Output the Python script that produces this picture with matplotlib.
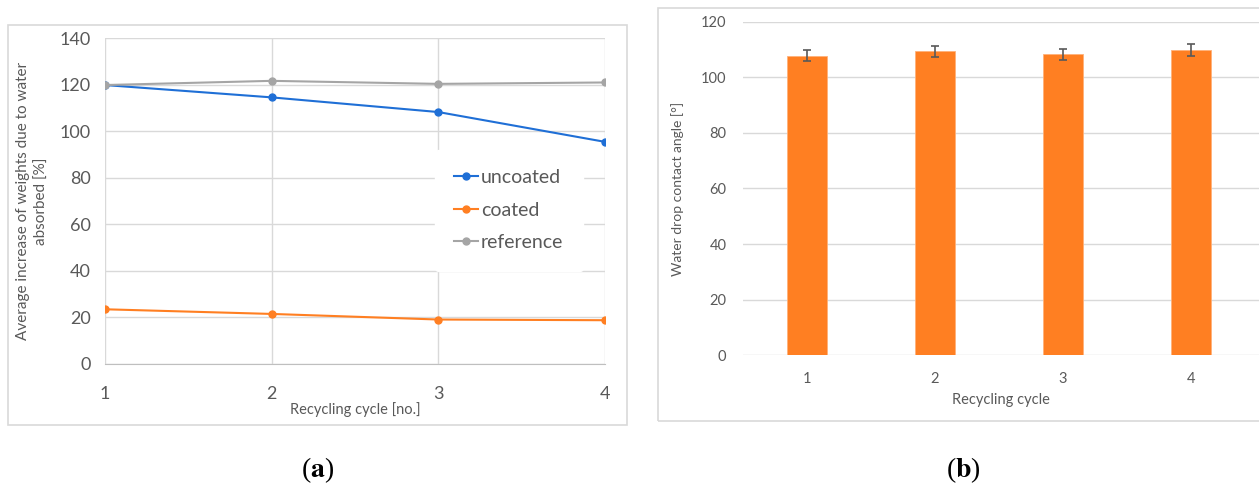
import matplotlib.pyplot as plt
from matplotlib.patches import Rectangle

# valores
ciclos = [1, 2, 3, 4]
uncoated = [119.8, 114.5, 108.2, 95.4]
coated = [23.5, 21.5, 19.1, 18.8]
reference = [119.8, 121.6, 120.3, 120.9]

angulo = [107.9, 109.5, 108.3, 109.9]
angulo_erro = [2.0, 2.0, 2.0, 2.0]

cor_texto = "#595959"
cor_grade = "#d9d9d9"

plt.rcParams["font.family"] = ["Lato", "DejaVu Sans"]
plt.rcParams["mathtext.fontset"] = "stix"

fig = plt.figure(figsize=(12.59, 4.86), dpi=100)

# molduras das duas figuras
fig.patches.append(Rectangle((8 / 1259, 61 / 486), 619 / 1259, 400 / 486,
                             transform=fig.transFigure, fill=False,
                             edgecolor=cor_grade, linewidth=1.2))
fig.patches.append(Rectangle((658 / 1259, 65 / 486), 610 / 1259, 413 / 486,
                             transform=fig.transFigure, fill=False,
                             edgecolor=cor_grade, linewidth=1.2))

# (a) grafico de linhas
ax1 = fig.add_axes([105 / 1259, 122 / 486, 500 / 1259, 326 / 486])
ax1.plot(ciclos, uncoated, color="#1f6fd6", marker="o", markersize=5, linewidth=1.5, label="uncoated")
ax1.plot(ciclos, coated, color="#ff7f22", marker="o", markersize=5, linewidth=1.5, label="coated")
ax1.plot(ciclos, reference, color="#a5a5a5", marker="o", markersize=5, linewidth=1.5, label="reference")
ax1.set_xlim(1, 4)
ax1.set_ylim(0, 140)
ax1.set_xticks(ciclos)
ax1.set_yticks(range(0, 141, 20))
ax1.grid(True, color=cor_grade, linewidth=1)
ax1.set_axisbelow(True)
for lado in ["top", "right", "left"]:
    ax1.spines[lado].set_visible(False)
ax1.spines["bottom"].set_color("#bfbfbf")
ax1.tick_params(axis="y", length=0, labelsize=13, colors=cor_texto, pad=10)
ax1.tick_params(axis="x", length=0, labelsize=13, colors=cor_texto, pad=16)
ax1.set_xlabel("Recycling cycle [no.]", fontsize=10.5, color=cor_texto, labelpad=0)
ax1.set_ylabel("Average increase of weights due to water\nabsorbed [%]", fontsize=11,
               color=cor_texto, linespacing=1.4, labelpad=8)
leg = ax1.legend(loc="center left", bbox_to_anchor=(0.66, 0.472), frameon=True,
                 fontsize=14, handlelength=1.2, handletextpad=0.15,
                 labelspacing=0.8, borderpad=1.0, borderaxespad=0)
leg.get_frame().set_edgecolor("white")
leg.get_frame().set_facecolor("white")
leg.get_frame().set_alpha(1)
for t in leg.get_texts():
    t.set_color(cor_texto)

# (b) grafico de barras
ax2 = fig.add_axes([743 / 1259, 131 / 486, 516 / 1259, 333 / 486])
ax2.bar(ciclos, angulo, width=0.31, color="#ff7f22", edgecolor="#ffb27a", linewidth=0.6,
        yerr=angulo_erro, error_kw=dict(ecolor="#595959", elinewidth=1.2, capsize=3, capthick=1.2))
ax2.set_xlim(0.5, 4.53)
ax2.set_ylim(0, 120)
ax2.set_xticks(ciclos)
ax2.set_yticks(range(0, 121, 20))
ax2.grid(True, axis="y", color=cor_grade, linewidth=1)
ax2.set_axisbelow(True)
for lado in ["top", "right", "left", "bottom"]:
    ax2.spines[lado].set_visible(False)
ax2.tick_params(length=0, labelsize=10.5, colors=cor_texto, pad=12)
ax2.set_xlabel("Recycling cycle", fontsize=10.5, color=cor_texto, labelpad=5)
ax2.set_ylabel("Water drop contact angle [°]", fontsize=10, color=cor_texto, labelpad=12)

# rotulos (a) e (b)
fig.text(318 / 1259, 16 / 486, r"($\mathbf{a}$)", fontsize=20, ha="center", va="center",
         family="Liberation Serif")
fig.text(963 / 1259, 16 / 486, r"($\mathbf{b}$)", fontsize=20, ha="center", va="center",
         family="Liberation Serif")

fig.savefig("out.png", dpi=100)
